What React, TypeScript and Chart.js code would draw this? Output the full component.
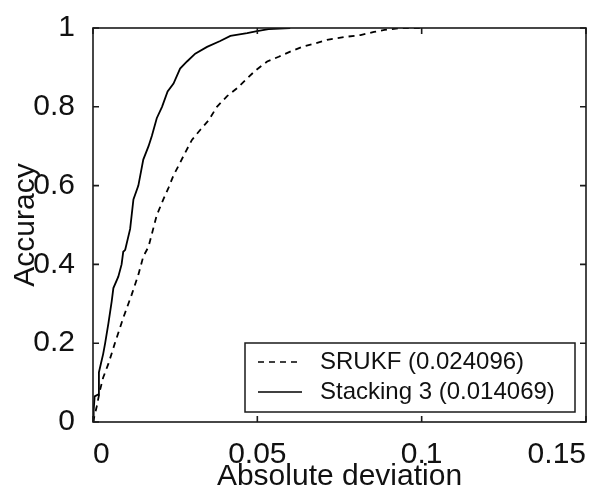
import { useEffect, useRef } from 'react';
import { Chart, registerables } from 'chart.js';

Chart.register(...registerables);

// ---- data ----
const stackX = [0, 0.0002, 0.0005, 0.0016, 0.0018, 0.0024, 0.0031, 0.0037, 0.0047, 0.0057, 0.0062, 0.0077, 0.0087, 0.0092, 0.0098, 0.0113, 0.0123, 0.0138, 0.0153, 0.0169, 0.0179, 0.0194, 0.021, 0.0227, 0.0245, 0.0265, 0.0286, 0.0311, 0.0347, 0.0387, 0.0418, 0.0469, 0.0499, 0.0534, 0.06];
const stackY = [0, 0.03, 0.065, 0.07, 0.126, 0.148, 0.173, 0.2, 0.251, 0.307, 0.34, 0.369, 0.4, 0.432, 0.437, 0.49, 0.565, 0.6, 0.666, 0.7, 0.726, 0.771, 0.8, 0.839, 0.859, 0.897, 0.915, 0.935, 0.952, 0.967, 0.98, 0.987, 0.992, 0.997, 1.0];

const srukfX = [0, 0.0011, 0.0021, 0.0031, 0.0047, 0.0067, 0.0092, 0.0118, 0.0138, 0.0153, 0.0169, 0.0194, 0.0214, 0.023, 0.0245, 0.0265, 0.028, 0.0301, 0.0326, 0.0352, 0.0377, 0.0408, 0.0438, 0.0469, 0.0494, 0.053, 0.0565, 0.06, 0.0636, 0.0672, 0.0712, 0.0763, 0.0814, 0.0855, 0.0887, 0.0936, 0.1006];
const srukfY = [0, 0.038, 0.08, 0.113, 0.148, 0.201, 0.264, 0.324, 0.374, 0.42, 0.445, 0.525, 0.565, 0.595, 0.626, 0.658, 0.683, 0.716, 0.741, 0.766, 0.8, 0.827, 0.847, 0.872, 0.892, 0.915, 0.927, 0.94, 0.952, 0.96, 0.97, 0.977, 0.982, 0.99, 0.995, 1.0, 1.0];

const seriesLabels = ['SRUKF (0.024096)', 'Stacking 3 (0.014069)'];

const xTickValues = [0, 0.05, 0.1, 0.15];
const xTickLabels = ['0', '0.05', '0.1', '0.15'];
const yTickValues = [0, 0.2, 0.4, 0.6, 0.8, 1];
const yTickLabels = ['0', '0.2', '0.4', '0.6', '0.8', '1'];

const xTitle = 'Absolute deviation';
const yTitle = 'Accuracy';

const FONT = "'Liberation Sans', Arial, Helvetica, sans-serif";
const TEXT = '#111';

function labelFor(values: number[], labels: string[], v: number): string {
  const i = values.findIndex((t) => Math.abs(t - v) < 1e-9);
  return i >= 0 ? labels[i] : '';
}

const framePlugin = {
  id: 'matlabFrame',
  afterDatasetsDraw(chart: any) {
    const { ctx, chartArea } = chart;
    const { left, right, top, bottom } = chartArea;
    const xs = chart.scales.x;
    const ys = chart.scales.y;
    const T = 6;
    ctx.save();
    ctx.strokeStyle = '#1a1a1a';
    ctx.lineWidth = 1.6;
    ctx.strokeRect(left, top, right - left, bottom - top);
    ctx.beginPath();
    xTickValues.forEach((v) => {
      const px = xs.getPixelForValue(v);
      ctx.moveTo(px, bottom);
      ctx.lineTo(px, bottom - T);
      ctx.moveTo(px, top);
      ctx.lineTo(px, top + T);
    });
    yTickValues.forEach((v) => {
      const py = ys.getPixelForValue(v);
      ctx.moveTo(left, py);
      ctx.lineTo(left + T, py);
      ctx.moveTo(right, py);
      ctx.lineTo(right - T, py);
    });
    ctx.stroke();
    ctx.restore();
  },
};

const legendPlugin = {
  id: 'insideLegend',
  afterDraw(chart: any) {
    const { ctx, chartArea } = chart;
    const w = 330;
    const h = 69;
    const x0 = chartArea.right - 11 - w;
    const y0 = chartArea.bottom - 10 - h;
    ctx.save();
    ctx.fillStyle = '#fff';
    ctx.fillRect(x0, y0, w, h);
    ctx.strokeStyle = '#1a1a1a';
    ctx.lineWidth = 1.5;
    ctx.strokeRect(x0, y0, w, h);
    chart.data.datasets.forEach((ds: any, i: number) => {
      const yy = y0 + 19 + i * 30;
      ctx.beginPath();
      ctx.setLineDash(ds.borderDash || []);
      ctx.lineWidth = 1.4;
      ctx.strokeStyle = ds.borderColor;
      ctx.moveTo(x0 + 13, yy);
      ctx.lineTo(x0 + 57, yy);
      ctx.stroke();
      ctx.setLineDash([]);
      ctx.fillStyle = TEXT;
      ctx.font = `24px ${FONT}`;
      ctx.textAlign = 'left';
      ctx.textBaseline = 'middle';
      ctx.fillText(ds.label, x0 + 75, yy);
    });
    ctx.restore();
  },
};

export default function App() {
  const ref = useRef<HTMLCanvasElement | null>(null);

  useEffect(() => {
    if (!ref.current) return;
    const chart = new Chart(ref.current, {
      type: 'line',
      data: {
        datasets: [
          {
            label: seriesLabels[0],
            data: srukfX.map((x, i) => ({ x, y: srukfY[i] })),
            borderColor: '#000',
            borderWidth: 1.8,
            borderDash: [6, 5],
            pointRadius: 0,
            fill: false,
            tension: 0,
          },
          {
            label: seriesLabels[1],
            data: stackX.map((x, i) => ({ x, y: stackY[i] })),
            borderColor: '#000',
            borderWidth: 1.8,
            pointRadius: 0,
            fill: false,
            tension: 0,
          },
        ],
      },
      options: {
        animation: false,
        responsive: false,
        maintainAspectRatio: false,
        events: [],
        layout: { padding: { top: 24, right: 6, left: 0, bottom: 0 } },
        plugins: {
          legend: { display: false },
          tooltip: { enabled: false },
        },
        scales: {
          x: {
            type: 'linear',
            position: 'bottom',
            min: 0,
            max: 0.15,
            grid: { display: false },
            border: { display: false },
            afterBuildTicks: (scale: any) => {
              scale.ticks = xTickValues.map((v) => ({ value: v }));
            },
            afterFit: (scale: any) => {
              scale.height = 67;
              scale.paddingLeft = 0;
              scale.paddingRight = 0;
            },
            ticks: {
              autoSkip: false,
              maxRotation: 0,
              minRotation: 0,
              align: 'inner',
              padding: 7,
              color: TEXT,
              font: { family: FONT, size: 30, lineHeight: 1.2 },
              callback: (v: any) => labelFor(xTickValues, xTickLabels, Number(v)),
            },
            title: {
              display: true,
              text: xTitle,
              color: TEXT,
              padding: { top: 0, bottom: 0 },
              font: { family: FONT, size: 30, lineHeight: 0.8 },
            },
          },
          y: {
            type: 'linear',
            min: 0,
            max: 1,
            grid: { display: false },
            border: { display: false },
            afterBuildTicks: (scale: any) => {
              scale.ticks = yTickValues.map((v) => ({ value: v }));
            },
            afterFit: (scale: any) => {
              scale.width = 93;
            },
            ticks: {
              autoSkip: false,
              padding: 10,
              color: TEXT,
              font: { family: FONT, size: 30, lineHeight: 1.2 },
              callback: (v: any) => labelFor(yTickValues, yTickLabels, Number(v)),
            },
            title: {
              display: true,
              text: yTitle,
              color: TEXT,
              padding: { top: 14, bottom: 0 },
              font: { family: FONT, size: 30, lineHeight: 0.8 },
            },
          },
        },
      } as any,
      plugins: [framePlugin, legendPlugin],
    });
    return () => chart.destroy();
  }, []);

  return (
    <div style={{ position: 'fixed', left: 0, top: 0, width: 592, height: 489, background: '#fff' }}>
      <canvas ref={ref} width={592} height={489} style={{ display: 'block' }} />
    </div>
  );
}
